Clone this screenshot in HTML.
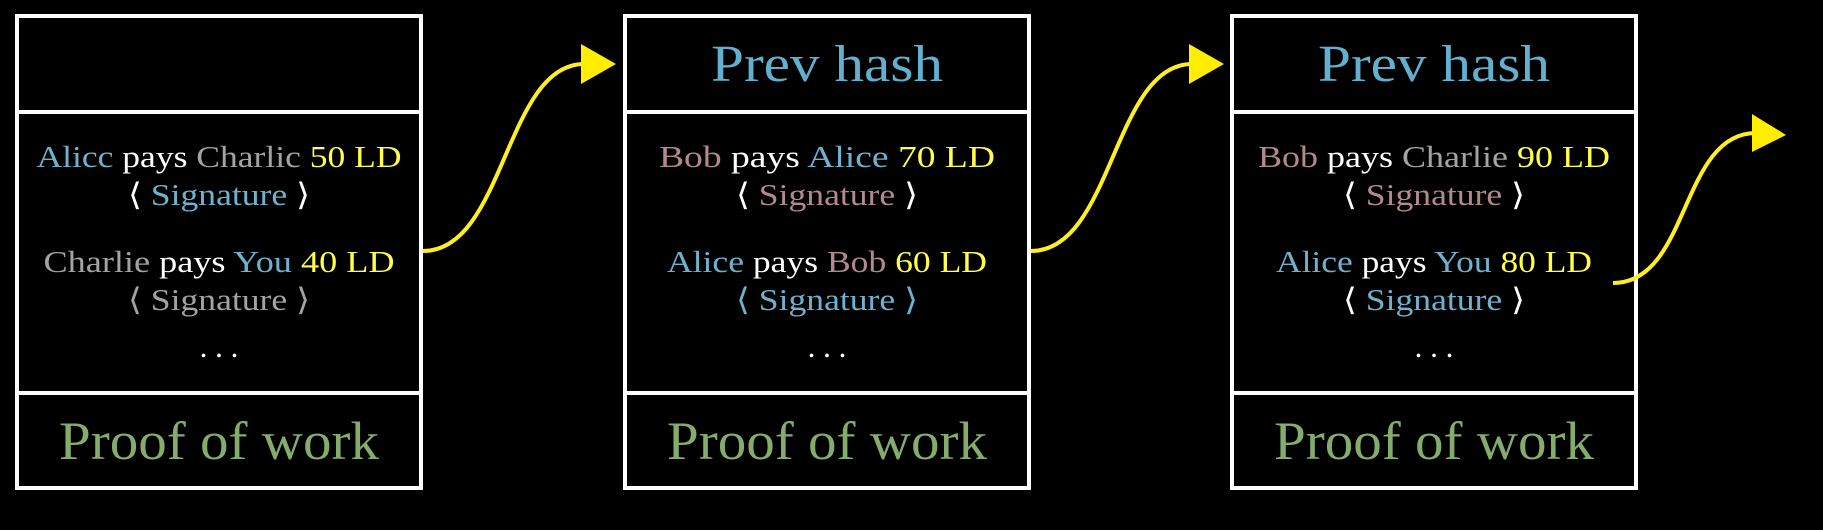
<!DOCTYPE html>
<html><head><meta charset="utf-8"><style>
html,body{margin:0;padding:0;background:#000;}
svg{display:block;}
text{font-family:"Liberation Serif","DejaVu Serif",serif;}
.t{font-size:31px;}
.h{font-size:52px;fill:#62afcf;}
.p{font-size:54px;fill:#85ab6d;}
.w{fill:#fff}.y{fill:#ffff4a}.b{fill:#6fb2cf}.g{fill:#a3a3a3}.r{fill:#b3898d}
</style></head><body>
<svg width="1823" height="530" viewBox="0 0 1823 530" xmlns="http://www.w3.org/2000/svg">
<g fill="none" stroke="#fff" stroke-width="4">
<rect x="17" y="16" width="404" height="472"/><line x1="17" y1="112" x2="421" y2="112"/><line x1="17" y1="393" x2="421" y2="393"/>
<rect x="625" y="16" width="404" height="472"/><line x1="625" y1="112" x2="1029" y2="112"/><line x1="625" y1="393" x2="1029" y2="393"/>
<rect x="1232" y="16" width="404" height="472"/><line x1="1232" y1="112" x2="1636" y2="112"/><line x1="1232" y1="393" x2="1636" y2="393"/>
</g>
<g text-anchor="middle">
<!-- box 1 -->
<text class="t" x="219" y="167" textLength="365" lengthAdjust="spacingAndGlyphs"><tspan class="b">Alicc</tspan> <tspan class="w">pays</tspan> <tspan class="g">Charlic</tspan> <tspan class="y">50 LD</tspan></text>
<text class="t" x="219" y="205" textLength="182" lengthAdjust="spacingAndGlyphs"><tspan class="w">⟨</tspan> <tspan class="b">Signature</tspan> <tspan class="w">⟩</tspan></text>
<text class="t" x="219" y="272" textLength="351" lengthAdjust="spacingAndGlyphs"><tspan class="g">Charlie</tspan> <tspan class="w">pays</tspan> <tspan class="b">You</tspan> <tspan class="y">40 LD</tspan></text>
<text class="t" x="219" y="310" textLength="182" lengthAdjust="spacingAndGlyphs"><tspan class="g">⟨ Signature ⟩</tspan></text>
<text class="t w" x="219" y="357">. . .</text>
<text class="p" x="219" y="459" textLength="320" lengthAdjust="spacingAndGlyphs">Proof of work</text>
<!-- box 2 -->
<text class="h" x="827" y="81" textLength="232" lengthAdjust="spacingAndGlyphs">Prev hash</text>
<text class="t" x="827" y="167" textLength="336" lengthAdjust="spacingAndGlyphs"><tspan class="r">Bob</tspan> <tspan class="w">pays</tspan> <tspan class="b">Alice</tspan> <tspan class="y">70 LD</tspan></text>
<text class="t" x="827" y="205" textLength="182" lengthAdjust="spacingAndGlyphs"><tspan class="w">⟨</tspan> <tspan class="r">Signature</tspan> <tspan class="w">⟩</tspan></text>
<text class="t" x="827" y="272" textLength="320" lengthAdjust="spacingAndGlyphs"><tspan class="b">Alice</tspan> <tspan class="w">pays</tspan> <tspan class="r">Bob</tspan> <tspan class="y">60 LD</tspan></text>
<text class="t" x="827" y="310" textLength="182" lengthAdjust="spacingAndGlyphs"><tspan class="b">⟨ Signature ⟩</tspan></text>
<text class="t w" x="827" y="357">. . .</text>
<text class="p" x="827" y="459" textLength="320" lengthAdjust="spacingAndGlyphs">Proof of work</text>
<!-- box 3 -->
<text class="h" x="1434" y="81" textLength="232" lengthAdjust="spacingAndGlyphs">Prev hash</text>
<text class="t" x="1434" y="167" textLength="352" lengthAdjust="spacingAndGlyphs"><tspan class="r">Bob</tspan> <tspan class="w">pays</tspan> <tspan class="g">Charlie</tspan> <tspan class="y">90 LD</tspan></text>
<text class="t" x="1434" y="205" textLength="182" lengthAdjust="spacingAndGlyphs"><tspan class="w">⟨</tspan> <tspan class="r">Signature</tspan> <tspan class="w">⟩</tspan></text>
<text class="t" x="1434" y="272" textLength="316" lengthAdjust="spacingAndGlyphs"><tspan class="b">Alice</tspan> <tspan class="w">pays</tspan> <tspan class="b">You</tspan> <tspan class="y">80 LD</tspan></text>
<text class="t" x="1434" y="310" textLength="182" lengthAdjust="spacingAndGlyphs"><tspan class="w">⟨</tspan> <tspan class="b">Signature</tspan> <tspan class="w">⟩</tspan></text>
<text class="t w" x="1434" y="357">. . .</text>
<text class="p" x="1434" y="459" textLength="320" lengthAdjust="spacingAndGlyphs">Proof of work</text>
</g>
<g fill="none" stroke="#ffee22" stroke-width="4">
<path d="M423,251 C505,251 505,64 584,64"/>
<path d="M1031,251 C1113,251 1113,64 1192,64"/>
<path d="M1613,283 C1690,283 1680,133 1756,133"/>
</g>
<g fill="#ffee00">
<polygon points="581,44 616,64 581,84"/>
<polygon points="1189,44 1224,64 1189,84"/>
<polygon points="1752,114 1786,135 1752,152"/>
</g>
</svg>
</body></html>
